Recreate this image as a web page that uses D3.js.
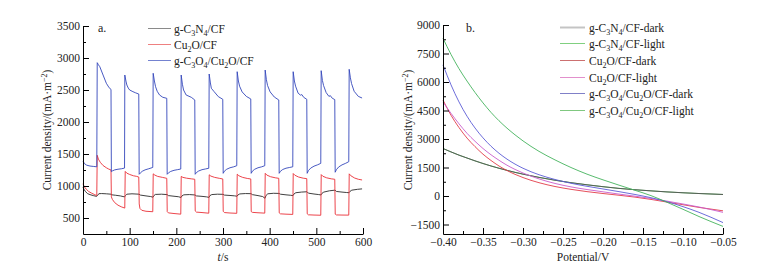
<!doctype html>
<html>
<head>
<meta charset="utf-8">
<script src="https://cdn.jsdelivr.net/npm/d3@7"></script>
<style>
  body { margin: 0; background: #fff; }
  svg { display: block; font-family: "Liberation Serif", "Times New Roman", serif; }
</style>
</head>
<body>
<svg width="770" height="278"></svg>
<script>
// ---- panel a: current density vs time (light on/off every 30 s) ----
var cnCF = [[0,985],[2,950],[5,915],[10,880],[15,865],[22,850],[29,838],[31,850],[34,880],[40,882],[50,878],[60,872],
  [62,862],[70,855],[80,845],[89,830],[91,850],[94,872],[105,878],[120,872],[123,858],[135,845],[145,835],[150,825],
  [152,850],[155,868],[168,872],[180,866],[183,850],[195,840],[205,832],[210,820],[212,845],[216,862],[228,866],[240,860],
  [243,845],[255,838],[265,830],[270,822],[272,850],[276,866],[288,872],[300,870],[303,858],[315,852],[325,846],[330,840],
  [332,860],[336,876],[348,882],[360,880],[363,865],[375,850],[385,835],[390,808],[392,850],[396,878],[408,886],[420,884],
  [423,872],[435,862],[445,855],[450,850],[452,875],[456,895],[468,905],[480,910],[483,888],[495,875],[505,866],[510,860],
  [512,885],[516,905],[528,925],[540,935],[543,915],[555,905],[565,898],[570,895],[572,915],[576,935],[588,948],[598,955]];

var cu2oCF = [[0,1035],[3,985],[7,950],[12,915],[18,890],[24,868],[29.5,850],
  [30.5,1480],[33,1420],[37,1370],[43,1320],[50,1285],[55,1265],[60,1250],
  [60.8,830],[63,790],[68,740],[75,700],[82,675],[89.5,655],
  [90.5,1228],[94,1200],[100,1180],[108,1160],[115,1150],[119.5,1140],
  [120.5,720],[122,650],[126,620],[135,605],[149.5,598],
  [150.5,1190],[154,1170],[160,1150],[170,1135],[179.5,1120],
  [180.5,600],[183,580],[195,570],[209.5,560],
  [210.5,1150],[214,1135],[222,1122],[232,1112],[239.5,1105],
  [240.5,610],[243,592],[255,585],[269.5,575],
  [270.5,1175],[274,1155],[282,1135],[292,1120],[299.5,1110],
  [300.5,605],[303,585],[315,578],[329.5,573],
  [330.5,1185],[334,1160],[342,1135],[352,1118],[359.5,1110],
  [360.5,600],[363,588],[375,582],[389.5,576],
  [390.5,1198],[394,1170],[402,1145],[412,1128],[419.5,1120],
  [420.5,580],[423,565],[435,560],[449.5,556],
  [450.5,1195],[454,1168],[462,1140],[472,1122],[479.5,1115],
  [480.5,565],[483,550],[495,546],[509.5,543],
  [510.5,1178],[514,1152],[522,1128],[532,1112],[539.5,1105],
  [540.5,560],[543,548],[555,546],[569.5,545],
  [570.5,1190],[574,1160],[582,1125],[590,1105],[598,1094]];

var compCF = [[0,1390],[3,1350],[8,1325],[15,1312],[22,1306],[29.5,1300],
  [30.5,2927],[33,2895],[36,2864],[43,2734],[50,2605],[56,2535],[60,2510],
  [60.8,1223],[63,1236],[68,1252],[75,1262],[83,1270],[89,1280],
  [89.6,2734],[92,2640],[94,2578],[97,2530],[100,2500],[107,2474],[113,2455],[119.5,2437],
  [120.4,1183],[123,1205],[127,1230],[133,1252],[141,1270],[149.5,1290],
  [150.4,2761],[153,2640],[155.5,2552],[159,2480],[164,2422],[171,2386],[179.5,2370],
  [180.4,1183],[183,1205],[188,1228],[195,1245],[203,1256],[209.5,1265],
  [210.4,2734],[213,2590],[215.5,2500],[221,2422],[232,2386],[239.5,2344],
  [240.4,1183],[243,1210],[248,1235],[255,1255],[263,1267],[269.5,1277],
  [270.4,2750],[273,2610],[275,2527],[281,2474],[290,2396],[299.5,2355],
  [300.4,1198],[303,1232],[308,1262],[315,1285],[323,1300],[329.5,1317],
  [330.4,2786],[333,2640],[335.5,2560],[341,2470],[350,2400],[359.5,2360],
  [360.4,1198],[363,1232],[368,1262],[375,1285],[383,1300],[389.5,1317],
  [390.4,2812],[393,2660],[395.5,2570],[401,2470],[410,2390],[419.5,2344],
  [420.4,1198],[423,1230],[428,1258],[435,1278],[443,1290],[449.5,1300],
  [450.4,2786],[453,2640],[455.5,2560],[461,2450],[466,2420],[469,2428],[473,2385],[479.5,2355],
  [480.4,1198],[483,1240],[488,1280],[495,1310],[503,1332],[509.5,1354],
  [510.4,2802],[513,2650],[515.5,2570],[521,2460],[527,2400],[530,2412],[534,2372],[539.5,2350],
  [540.4,1215],[543,1255],[548,1298],[555,1330],[563,1355],[569.5,1380],
  [570.4,2823],[573,2690],[575.5,2600],[581,2480],[590,2400],[598,2375]];

var namesA = ["g-C_{3}N_{4}/CF", "Cu_{2}O/CF", "g-C_{3}O_{4}/Cu_{2}O/CF"];
var colorsA = ["#2a2a2a", "#ea3038", "#3447bb"];
var legendColorsA = ["#8a8a8a", "#ee8080", "#7482d0"];

var timeTicks = [0, 100, 200, 300, 400, 500, 600];
var timeMinor = [50, 150, 250, 350, 450, 550];
var currentTicks = [500, 1000, 1500, 2000, 2500, 3000, 3500];
var currentMinor = [750, 1250, 1750, 2250, 2750, 3250];

// ---- panel b: current density vs potential ----
var potential = [-0.40,-0.39,-0.38,-0.37,-0.36,-0.35,-0.34,-0.33,-0.32,-0.31,-0.30,-0.28,-0.26,-0.24,-0.22,-0.20,-0.18,-0.16,-0.14,-0.12,-0.10,-0.08,-0.05];
var cnDark    = [2500,2320,2150,2000,1850,1710,1580,1460,1350,1245,1150,980,830,700,590,490,400,330,270,215,170,130,80];
var cnLight   = [2500,2320,2150,2000,1850,1710,1580,1460,1350,1245,1150,980,830,700,590,490,400,330,270,215,170,130,80];
var cuDark    = [5050,4250,3600,3050,2600,2200,1870,1580,1340,1140,970,700,500,350,230,130,40,-60,-180,-320,-460,-600,-780];
var cuLight   = [4950,4350,3800,3300,2880,2500,2170,1880,1620,1400,1210,900,660,480,340,220,100,-10,-130,-270,-420,-580,-860];
var compDark  = [6900,5850,4950,4200,3580,3060,2620,2250,1940,1680,1460,1120,870,670,510,370,230,80,-90,-300,-560,-860,-1400];
var compLight = [8300,7450,6700,6050,5450,4900,4400,3960,3570,3220,2900,2350,1900,1500,1150,850,570,300,20,-330,-700,-1080,-1600];

var namesB = ["g-C_{3}N_{4}/CF-dark", "g-C_{3}N_{4}/CF-light", "Cu_{2}O/CF-dark", "Cu_{2}O/CF-light",
  "g-C_{3}O_{4}/Cu_{2}O/CF-dark", "g-C_{3}O_{4}/Cu_{2}O/CF-light"];
var seriesB = [cnDark, cnLight, cuDark, cuLight, compDark, compLight];
var colorsB = ["#555", "#4caf50", "#e23c48", "#c85ccc", "#5c5cd6", "#45b35e"];
var legendColorsB = ["#c4c4c4", "#80d080", "#cc7070", "#e290cc", "#8080c8", "#80c880"];
var drawOrderB = [1, 0, 2, 3, 4, 5];

var potTicks = [-0.40, -0.35, -0.30, -0.25, -0.20, -0.15, -0.10, -0.05];
var potMinor = [-0.375, -0.325, -0.275, -0.225, -0.175, -0.125, -0.075];
var jTicks = [-1500, 0, 1500, 3000, 4500, 6000, 7500, 9000];
var jMinor = [-750, 750, 2250, 3750, 5250, 6750, 8250];

var svg = d3.select("svg");
var FONT = 11.5;

// text with _{sub} and ^{sup}
function richText(sel, str) {
  var parts = str.split(/([_^]\{[^}]*\})/);
  var shift = 0;
  parts.forEach(function(p) {
    if (!p) return;
    var m = p.match(/^([_^])\{([^}]*)\}$/);
    if (m) {
      var d = m[1] == "_" ? 3 : -4;
      sel.append("tspan").attr("dy", d - shift).attr("font-size", 8).text(m[2]);
      shift = d;
    } else {
      sel.append("tspan").attr("dy", -shift).text(p);
      shift = 0;
    }
  });
}

function axes(g, x, y, xt, xm, yt, ym, xf, yf) {
  var y0 = y.range()[0], x0 = x.range()[0];
  var bx = g.append("g").attr("transform", "translate(0," + y0 + ")")
    .call(d3.axisBottom(x).tickValues(xt).tickSizeInner(-6).tickSizeOuter(0).tickPadding(4).tickFormat(xf));
  g.append("g").attr("transform", "translate(0," + y0 + ")")
    .call(d3.axisBottom(x).tickValues(xm).tickSize(-3).tickFormat(""))
    .select(".domain").remove();
  var ly = g.append("g").attr("transform", "translate(" + x0 + ",0)")
    .call(d3.axisLeft(y).tickValues(yt).tickSizeInner(-6).tickSizeOuter(0).tickPadding(3).tickFormat(yf));
  g.append("g").attr("transform", "translate(" + x0 + ",0)")
    .call(d3.axisLeft(y).tickValues(ym).tickSize(-3).tickFormat(""))
    .select(".domain").remove();
  g.selectAll(".tick text").attr("fill", "#222");
  [bx, ly].forEach(function(a) {
    a.attr("font-family", null).attr("font-size", FONT);
  });
}

function yLabel(g, xPos, yMid) {
  var t = g.append("text").attr("transform", "translate(" + xPos + "," + yMid + ") rotate(-90)")
    .attr("text-anchor", "middle").attr("font-size", FONT).attr("fill", "#222");
  richText(t, "Current density/(mA·m^{−2})");
}

// ---------- panel a ----------
var xA = d3.scaleLinear().domain([0, 600]).range([83, 363]);
var yA = d3.scaleLinear().domain([250, 3500]).range([234, 26]);
var gA = svg.append("g");

var lineA = d3.line().x(d => xA(d[0])).y(d => yA(d[1]));
[cnCF, cu2oCF, compCF].forEach(function(s, i) {
  gA.append("path").datum(s).attr("d", lineA)
    .attr("fill", "none").attr("stroke", colorsA[i]).attr("stroke-width", 0.9);
});
axes(gA, xA, yA, timeTicks, timeMinor, currentTicks, currentMinor, d3.format("d"), d3.format("d"));

gA.append("text").attr("x", 98).attr("y", 32).attr("font-size", 12).attr("fill", "#222").text("a.");
namesA.forEach(function(n, i) {
  var yy = 28.5 + i * 16;
  gA.append("line").attr("x1", 148).attr("x2", 171).attr("y1", yy).attr("y2", yy)
    .attr("stroke", legendColorsA[i]).attr("stroke-width", 1);
  var t = gA.append("text").attr("x", 174).attr("y", yy + 4).attr("font-size", FONT).attr("fill", "#222");
  richText(t, n);
});
yLabel(gA, 51, 130);
var tl = gA.append("text").attr("x", xA(300)).attr("y", 261).attr("text-anchor", "middle")
  .attr("font-size", FONT).attr("fill", "#222");
tl.append("tspan").attr("font-style", "italic").text("t");
tl.append("tspan").text("/s");

// ---------- panel b ----------
var xB = d3.scaleLinear().domain([-0.40, -0.05]).range([443, 723]);
var yB = d3.scaleLinear().domain([-2000, 9000]).range([234, 25]);
var gB = svg.append("g");

var lineB = d3.line().x((d, i) => xB(potential[i])).y(d => yB(d)).curve(d3.curveMonotoneX);
drawOrderB.forEach(function(i) {
  gB.append("path").datum(seriesB[i]).attr("d", lineB)
    .attr("fill", "none").attr("stroke", colorsB[i]).attr("stroke-width", 0.9);
});
axes(gB, xB, yB, potTicks, potMinor, jTicks, jMinor, d3.format(".2f"), d3.format("d"));

gB.append("text").attr("x", 466).attr("y", 32).attr("font-size", 12).attr("fill", "#222").text("b.");
namesB.forEach(function(n, i) {
  var yy = Math.round(26.7 + i * 16.67) + 0.5;
  gB.append("line").attr("x1", 560).attr("x2", 585).attr("y1", yy).attr("y2", yy)
    .attr("stroke", legendColorsB[i]).attr("stroke-width", i == 0 ? 2 : 1);
  var t = gB.append("text").attr("x", 589).attr("y", yy + 4).attr("font-size", FONT).attr("fill", "#222");
  richText(t, n);
});
yLabel(gB, 412, 130);
gB.append("text").attr("x", xB(-0.225)).attr("y", 261).attr("text-anchor", "middle")
  .attr("font-size", FONT).attr("fill", "#222").text("Potential/V");
</script>
</body>
</html>
